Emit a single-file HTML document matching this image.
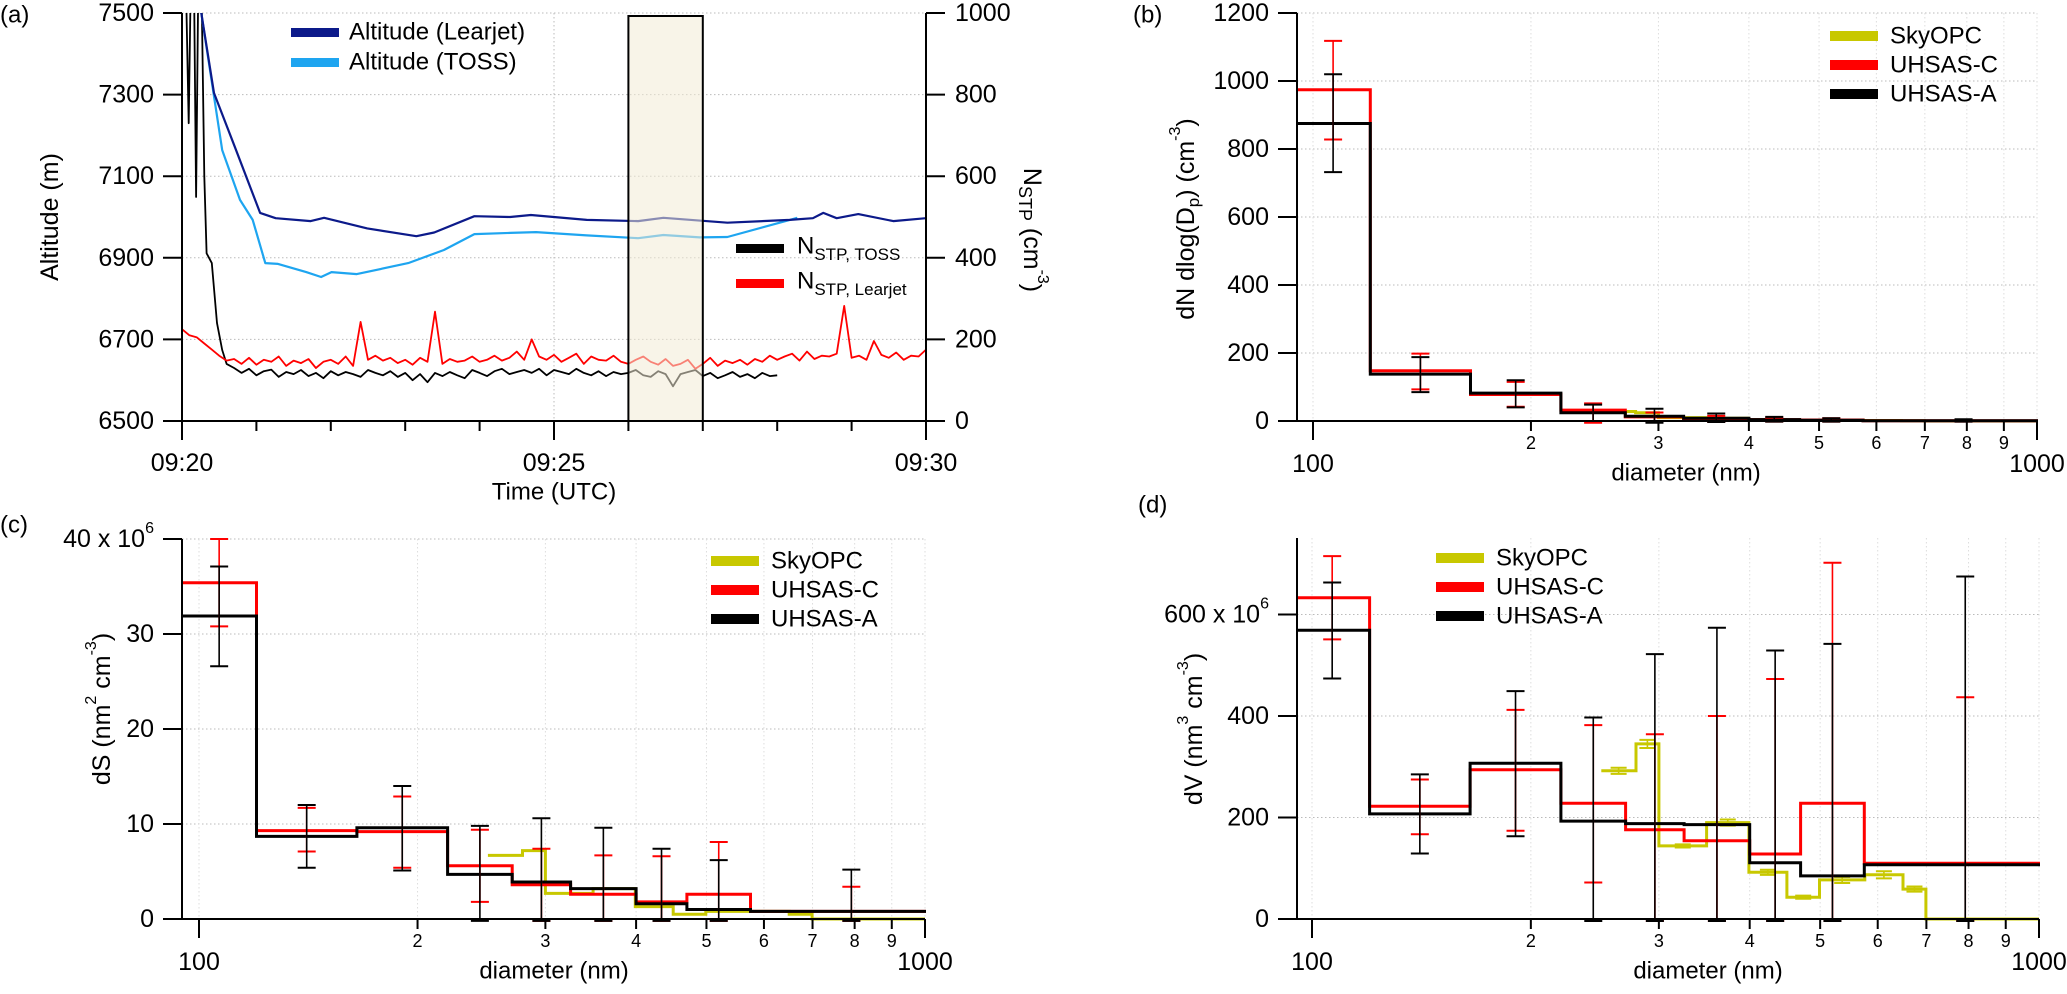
<!DOCTYPE html>
<html><head><meta charset="utf-8"><style>
html,body{margin:0;padding:0;background:#fff;}
svg{display:block;font-family:"Liberation Sans",Arial,sans-serif;}
</style></head><body>
<svg id="chart" width="2067" height="994" viewBox="0 0 2067 994" xmlns="http://www.w3.org/2000/svg">
<defs>
<clipPath id="clipA"><rect x="182" y="13" width="744" height="408"/></clipPath>
<clipPath id="clipB"><rect x="1297" y="0" width="741" height="440"/></clipPath>
<clipPath id="clipC"><rect x="182" y="520" width="744" height="420"/></clipPath>
<clipPath id="clipD"><rect x="1297" y="520" width="743" height="420"/></clipPath>
</defs>
</svg>
<script>
// ---------- panel (a) data ----------
const learT=[0.2,0.26,0.43,0.71,1.05,1.26,1.73,1.91,2.49,3.15,3.39,3.93,4.41,4.69,5.44,6.13,6.47,7.33,8.17,8.48,8.62,8.8,9.09,9.56,10];
const learAlt=[7650,7500,7304,7172,7010,6997,6990,6998,6972,6953,6962,7002,7000,7005,6993,6990,6998,6986,6993,6997,7010,6997,7007,6990,6997];
const tossT=[0.22,0.26,0.54,0.78,0.95,1.12,1.29,1.67,1.87,2.01,2.35,3.04,3.52,3.93,4.41,4.76,5.44,6.13,6.47,6.96,7.33,8.17,8.27];
const tossAlt=[7650,7500,7164,7042,6993,6887,6885,6865,6853,6865,6860,6887,6919,6958,6961,6963,6955,6948,6956,6950,6951,6993,6998];
const nLearVals=[225,210,205,190,175,160,148,152,140,155,
138,150,145,158,135,148,142,152,130,145,
150,140,158,135,243,150,160,148,155,142,
150,138,155,145,268,140,152,145,148,158,
145,150,160,148,155,170,150,200,158,150,
162,145,155,165,140,158,150,148,160,145,
140,150,158,145,138,152,135,140,150,128,
140,155,135,148,142,150,138,152,145,160,
150,158,165,148,170,152,160,158,165,282,
155,160,150,196,162,155,168,150,160,158,175];
const nTossEarlyT=[0,0.05,0.09,0.12,0.16,0.19,0.22,0.26,0.3,0.33,0.4,0.47,0.54,0.6];
const nTossEarlyV=[1100,1100,730,1100,1100,549,1100,1100,600,411,387,240,174,140];
const nTossVals=[130,118,128,112,122,126,108,120,115,125,
110,118,105,122,112,120,115,108,125,118,
112,122,108,118,100,115,95,118,110,120,
112,105,125,118,110,122,128,115,120,125,
118,128,112,125,120,115,128,118,112,122,
110,120,115,118,125,112,108,122,115,85,
115,120,125,110,118,105,112,120,108,115,
105,118,110,112];
const altTicks=[6500,6700,6900,7100,7300,7500];
const nTicks=[0,200,400,600,800,1000];
const timeLabels=['09:20','09:25','09:30'];
const timeLabelMin=[0,5,10];
const shadeStart=6, shadeEnd=7;

// ---------- size distribution data ----------
const uhEdges=[94.7,120,165,220,270,325,400,470,575,1090];
const skyEdges=[250,279,300,349,399,450,499,576,650,699,1000];
const bRed=[974,148,78,32,12,6,4,3,1];
const bBlack=[875,138,82,24,14,8,4,2,1];
const bSky=[28,24,10,8,4,2,2,1.5,1,0];
const bRedLo=[828,93,42,-5,-3,-3,-2,-2,-2];
const bRedHi=[1118,198,115,52,25,15,10,8,4];
const bBlackLo=[732,85,40,0,-5,-3,-2,-2,-2];
const bBlackHi=[1020,188,120,48,36,22,12,8,5];
const cRed=[35.4,9.3,9.2,5.6,3.6,2.6,1.8,2.6,0.8];
const cBlack=[31.9,8.7,9.6,4.7,3.9,3.2,1.6,1.0,0.8];
const cSky=[6.7,7.2,2.7,3.2,1.3,0.5,0.8,0.8,0.5,0];
const cRedLo=[30.8,7.1,5.4,1.8,-0.2,-0.2,-0.2,-0.2,-0.2];
const cRedHi=[40.0,11.7,12.9,9.4,7.4,6.7,6.6,8.1,3.4];
const cBlackLo=[26.6,5.4,5.1,-0.2,-0.2,-0.2,-0.2,-0.2,-0.2];
const cBlackHi=[37.1,12.0,14.0,9.8,10.6,9.6,7.4,6.2,5.2];
const dRed=[633,222,294,228,176,154,128,228,110];
const dBlack=[569,207,307,193,188,186,111,85,107];
const dSky=[292,345,144,190,92,43,77,87,59,0];
const dRedLo=[551,167,174,72,-4,-4,-4,-4,-4];
const dRedHi=[715,275,412,382,364,400,473,702,437];
const dBlackLo=[474,129,163,-4,-4,-4,-4,-4,-4];
const dBlackHi=[663,285,449,397,522,574,529,542,675];
const dSkyErr=[6,8,3,6,5,3,6,7,5,0];
const bYTicks=[0,200,400,600,800,1000,1200];
const cYTicks=[0,10,20,30,40];
const dYTicks=[0,200,400,600];
const xMinorTicks=[100,200,300,400,500,600,700,800,900,1000];

const NS='http://www.w3.org/2000/svg';
const svg=document.getElementById('chart');
const RED='#ff0000', BLK='#000000', SKY='#c8c800', NAVY='#0c1a8a', LBLUE='#1ea5f0';
function mk(tag,attrs,parent){const e=document.createElementNS(NS,tag);for(const k in attrs)e.setAttribute(k,attrs[k]);(parent||svg).appendChild(e);return e;}
function txt(x,y,s,size,anchor,parent){const t=mk('text',{x:x,y:y,'font-size':size,'text-anchor':anchor||'start','dominant-baseline':'central',fill:'#000'},parent);t.textContent=s;return t;}
function grp(name,clip){const g=mk('g',clip?{'clip-path':'url(#'+clip+')'}:{});return g;}
function line(x1,y1,x2,y2,stroke,w,parent,dash){const a={x1:x1,y1:y1,x2:x2,y2:y2,stroke:stroke,'stroke-width':w};if(dash)a['stroke-dasharray']=dash;return mk('line',a,parent);}

// ================= Panel (a) =================
const xa=t=>182+t*74.4;
const ya=v=>421-(v-6500)*0.408;
const yn=v=>421-v*0.408;
const gA=grp('panel-a');
const la=txt(0,15,'(a)',24,'start',gA);
const gridA=grp('panel-a-grid');
altTicks.forEach(v=>{if(v>6500){const l=line(182,ya(v),926,ya(v),'#bbb',1,gridA,'1.5,2.5');}});
[5].forEach(m=>{const l=line(xa(m),13,xa(m),421,'#bbb',1,gridA,'1.5,2.5');});
const seriesA=grp('panel-a-series','clipA');
function poly(xs,ys,fx,fy,color,w,parent,name){let d='';xs.forEach((x,i)=>{d+=(i?'L':'M')+fx(x).toFixed(1)+' '+fy(ys[i]).toFixed(1);});const p=mk('path',{d:d,fill:'none',stroke:color,'stroke-width':w,'stroke-linejoin':'round'},parent);return p;}
const tLear=nLearVals.map((v,i)=>i*0.1);
const tToss=nTossEarlyT.concat(nTossVals.map((v,i)=>0.7+i*0.1));
const vToss=nTossEarlyV.concat(nTossVals);
poly(tToss,vToss,xa,yn,BLK,1.8,seriesA,'n-stp-toss-line');
poly(tLear,nLearVals,xa,yn,RED,1.8,seriesA,'n-stp-learjet-line');
poly(tossT,tossAlt,xa,ya,LBLUE,2.2,seriesA,'altitude-toss-line');
poly(learT,learAlt,xa,ya,NAVY,2.2,seriesA,'altitude-learjet-line');
const shade=mk('rect',{x:xa(shadeStart),y:16,width:xa(shadeEnd)-xa(shadeStart),height:405,fill:'#f3ebd5','fill-opacity':0.55,stroke:'#000','stroke-width':2});


// axes a
const axA=grp('panel-a-axes');
line(182,13,182,421,'#000',2,axA);
line(926,13,926,440,'#000',2,axA);
line(182,421,926,421,'#000',2,axA);
altTicks.forEach(v=>{line(163,ya(v),182,ya(v),'#000',2,axA);const t=txt(154,ya(v),String(v),25,'end',axA);});
nTicks.forEach(v=>{line(926,yn(v),945,yn(v),'#000',2,axA);const t=txt(955,yn(v),String(v),25,'start',axA);});
for(let m=0;m<=10;m++){const major=timeLabelMin.indexOf(m)>=0;line(xa(m),421,xa(m),major?440:431,'#000',2,axA);}
timeLabels.forEach((s,i)=>{const t=txt(xa(timeLabelMin[i]),463,s,25,'middle',axA);});
const xTitleA=txt(xa(5),492,'Time (UTC)',24,'middle',axA);
const yTitleA=txt(0,0,'Altitude (m)',25,'middle',axA);yTitleA.setAttribute('transform','translate(50,217) rotate(-90)');


const yTitleA2=mk('text',{'font-size':25,'text-anchor':'middle','dominant-baseline':'central',transform:'translate(1032,230) rotate(90)'},axA);
yTitleA2.innerHTML='N<tspan font-size="18" dy="7">STP</tspan><tspan dy="-7"> (cm</tspan><tspan font-size="16" dy="-11">-3</tspan><tspan dy="11">)</tspan>';


// legends a
const legA=grp('panel-a-legend');
[[NAVY,32,'Altitude (Learjet)'],[LBLUE,62,'Altitude (TOSS)']].forEach(r=>{mk('rect',{x:291,y:r[1]-4,width:48,height:9,fill:r[0]},legA);const t=txt(349,r[1],r[2],24,'start',legA);});
[[BLK,248,'TOSS'],[RED,283,'Learjet']].forEach(r=>{mk('rect',{x:736,y:r[1]-4,width:48,height:9,fill:r[0]},legA);const t=mk('text',{x:797,y:r[1]-2,'font-size':24,'dominant-baseline':'central'},legA);t.innerHTML='N<tspan font-size="17" dy="8">STP, '+r[2]+'</tspan>';});

// ================= Log panels =================
function logPanel(o){
  const g=grp(o.name);
  const xf=d=>o.x100+Math.log10(d/100)*o.dec;
  const yf=v=>o.yBot-v*o.ppu;
  const lab=txt(o.labX,o.labY,o.label,24,'start',g);
  const grid=grp(o.name+'-grid');
  o.yTicks.forEach(v=>{if(v>0){const l=line(o.axisX,yf(v),xf(1000),yf(v),'#bbb',1,grid,'1.5,2.5');}});
  xMinorTicks.forEach(d=>{const l=line(xf(d),o.yTop,xf(d),o.yBot,'#ddd',1,grid,'1.5,2.5');});
  const s=grp(o.name+'-series',o.clip);
  function step(edges,vals,color,w,name){let d='M'+xf(edges[0]).toFixed(1)+' '+yf(vals[0]).toFixed(1);vals.forEach((v,i)=>{if(i>0)d+='V'+yf(v).toFixed(1);d+='H'+xf(edges[i+1]).toFixed(1);});const p=mk('path',{d:d,fill:'none',stroke:color,'stroke-width':w,'stroke-linejoin':'miter'},s);}
  function errs(edges,lo,hi,color,cap,name){lo.forEach((l,i)=>{const x=xf(Math.sqrt(edges[i]*edges[i+1]));const e=mk('g',{},s);line(x,yf(l),x,yf(hi[i]),color,1.6,e);line(x-cap,yf(l),x+cap,yf(l),color,2,e);line(x-cap,yf(hi[i]),x+cap,yf(hi[i]),color,2,e);});}
  step(o.skyEdges,o.sky,SKY,3,'skyopc-step');
  if(o.skyErr){errs(o.skyEdges,o.sky.map((v,i)=>v-o.skyErr[i]),o.sky.map((v,i)=>v+o.skyErr[i]),SKY,8,'skyopc-error-bar');}
  step(uhEdges,o.red,RED,3,'uhsas-c-step');
  step(uhEdges,o.black,BLK,3,'uhsas-a-step');
  errs(uhEdges,o.redLo,o.redHi,RED,9,'uhsas-c-error-bar');
  errs(uhEdges,o.blackLo,o.blackHi,BLK,9,'uhsas-a-error-bar');
  const ax=grp(o.name+'-axes');
  line(o.axisX,o.yTop,o.axisX,o.yBot,'#000',2,ax);
  line(o.axisX-19,o.yBot,xf(1000),o.yBot,'#000',2,ax);
  o.yTicks.forEach((v,i)=>{line(o.axisX-19,yf(v),o.axisX,yf(v),'#000',2,ax);const t=mk('text',{x:o.axisX-28,y:yf(v),'font-size':25,'text-anchor':'end','dominant-baseline':'central'},ax);t.textContent=String(v);if(i===o.yTicks.length-1&&o.sci){t.textContent='';t.innerHTML=v+' x 10<tspan font-size="16" dy="-11">6</tspan>';}});
  xMinorTicks.forEach(d=>{const major=(d===100||d===1000);line(xf(d),o.yBot,xf(d),o.yBot+(major?19:10),'#000',2,ax);const t=txt(xf(d),o.yBot+(major?43:22),major?String(d):String(d/100),major?25:18,'middle',ax);});
  const xt=txt(o.xTitleX,o.yBot+52,'diameter (nm)',24,'middle',ax);
  const yt=mk('text',{'font-size':25,'text-anchor':'middle','dominant-baseline':'central',transform:'translate('+o.yTitleX+','+o.yTitleY+') rotate(-90)'},ax);yt.innerHTML=o.yTitle;
  const lg=grp(o.name+'-legend');
  [[SKY,'SkyOPC'],[RED,'UHSAS-C'],[BLK,'UHSAS-A']].forEach((r,i)=>{const y=o.legY+i*29;mk('rect',{x:o.legX,y:y-5,width:48,height:10,fill:r[0]},lg);const t=txt(o.legX+60,y,r[1],24,'start',lg);});
}
logPanel({name:'panel-b',label:'(b)',labX:1133,labY:15,axisX:1297,x100:1313,dec:724,yTop:13,yBot:421,ppu:0.34,clip:'clipB',
  yTicks:bYTicks,red:bRed,black:bBlack,sky:bSky,skyEdges:skyEdges,redLo:bRedLo,redHi:bRedHi,blackLo:bBlackLo,blackHi:bBlackHi,
  xTitleX:1686,yTitleX:1186,yTitleY:219,yTitle:'dN dlog(D<tspan font-size="17" dy="7">p</tspan><tspan dy="-7">) (cm</tspan><tspan font-size="16" dy="-11">-3</tspan><tspan dy="11">)</tspan>',legX:1830,legY:36});
logPanel({name:'panel-c',label:'(c)',labX:0,labY:525,axisX:182,x100:199,dec:726,yTop:539,yBot:919,ppu:9.5,clip:'clipC',sci:true,
  yTicks:cYTicks,red:cRed,black:cBlack,sky:cSky,skyEdges:skyEdges,redLo:cRedLo,redHi:cRedHi,blackLo:cBlackLo,blackHi:cBlackHi,
  xTitleX:554,yTitleX:102,yTitleY:709,yTitle:'dS (nm<tspan font-size="16" dy="-11">2</tspan><tspan dy="11"> cm</tspan><tspan font-size="16" dy="-11">-3</tspan><tspan dy="11">)</tspan>',legX:711,legY:561});
logPanel({name:'panel-d',label:'(d)',labX:1138,labY:505,axisX:1297,x100:1312,dec:727,yTop:538,yBot:919,ppu:0.5075,clip:'clipD',sci:true,
  yTicks:dYTicks,red:dRed,black:dBlack,sky:dSky,skyErr:dSkyErr,skyEdges:skyEdges,redLo:dRedLo,redHi:dRedHi,blackLo:dBlackLo,blackHi:dBlackHi,
  xTitleX:1708,yTitleX:1194,yTitleY:729,yTitle:'dV (nm<tspan font-size="16" dy="-11">3</tspan><tspan dy="11"> cm</tspan><tspan font-size="16" dy="-11">-3</tspan><tspan dy="11">)</tspan>',legX:1436,legY:558});
</script>
</body></html>
